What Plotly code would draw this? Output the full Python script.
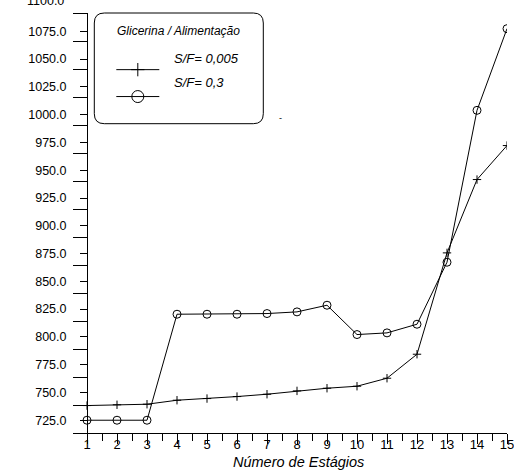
import plotly.graph_objects as go

# ---- data ----
stages = list(range(1, 16))
sf_0005 = [738.2, 738.9, 739.4, 743.0, 744.5, 746.3, 748.4, 751.4,
           753.8, 755.6, 762.8, 784.4, 875.6, 941.6, 972.2]
sf_03 = [725.0, 725.0, 725.0, 820.4, 820.4, 820.4, 821.0, 822.5,
         828.5, 802.1, 803.6, 811.4, 867.2, 1003.9, 1077.4]
series_names = ["S/F= 0,005", "S/F= 0,3"]
legend_title = "Glicerina / Alimentação"
x_title = "Número de Estágios"
y_tick_start, y_tick_step = 725, 25
y_extra_label = 1100

# ---- geometry / style ----
W, H = 514, 472
ML, MR, MT, MB = 72.7, 7.3, 13.3, 38.7
PW, PH = W - ML - MR, H - MT - MB
Y_MIN, Y_MAX = 713.5, 1091.5
X_MIN, X_MAX = 1 - 14 / 30, 15
FONT = "Liberation Sans, Arial, sans-serif"

def px_to_paper_x(px):
    return (px - ML) / PW

def px_to_paper_y(py):
    return (H - MB - py) / PH

fig = go.Figure()
fig.add_trace(go.Scatter(
    x=stages, y=sf_0005, mode="lines+markers", showlegend=False,
    name=series_names[0],
    line=dict(color="black", width=1),
    marker=dict(symbol="cross-thin", size=6, color="black",
                line=dict(color="black", width=1))))
fig.add_trace(go.Scatter(
    x=stages, y=sf_03, mode="lines+markers", showlegend=False,
    name=series_names[1],
    line=dict(color="black", width=1),
    marker=dict(symbol="circle-open", size=8, color="black",
                line=dict(color="black", width=1))))
# legend symbols only (no data); their labels are annotations
fig.add_trace(go.Scatter(
    x=[None], y=[None], mode="lines+markers", name=" ",
    legendgroup="a",
    line=dict(color="black", width=1),
    marker=dict(symbol="cross-thin", size=9.5, color="black",
                line=dict(color="black", width=1))))
fig.add_trace(go.Scatter(
    x=[None], y=[None], mode="lines+markers", name=" ",
    legendgroup="b",
    line=dict(color="black", width=1),
    marker=dict(symbol="circle-open", size=12, color="black",
                line=dict(color="black", width=1))))

# rounded legend frame
bx0, bx1 = px_to_paper_x(94), px_to_paper_x(263)
by0, by1 = px_to_paper_y(124), px_to_paper_y(13.3)
rx, ry = 10 / PW, 10 / PH
path = (f"M {bx0+rx},{by1} L {bx1-rx},{by1} Q {bx1},{by1} {bx1},{by1-ry} "
        f"L {bx1},{by0+ry} Q {bx1},{by0} {bx1-rx},{by0} "
        f"L {bx0+rx},{by0} Q {bx0},{by0} {bx0},{by0+ry} "
        f"L {bx0},{by1-ry} Q {bx0},{by1} {bx0+rx},{by1} Z")

legend_font = dict(family=FONT, size=13, style="italic")

fig.update_layout(
    width=W, height=H,
    margin=dict(l=ML, r=MR, t=MT, b=MB, pad=0),
    paper_bgcolor="white", plot_bgcolor="white",
    font=dict(family=FONT, color="black", size=12),
    shapes=[dict(type="path", xref="paper", yref="paper", path=path,
                 line=dict(color="black", width=1), layer="above")],
    legend=dict(x=px_to_paper_x(111), y=px_to_paper_y(55),
                xanchor="left", yanchor="top",
                bgcolor="rgba(0,0,0,0)", borderwidth=0,
                itemwidth=43, tracegroupgap=7,
                font=legend_font),
    xaxis=dict(range=[X_MIN, X_MAX], tickmode="linear", tick0=1, dtick=1,
               ticks="outside", ticklen=10, tickcolor="black", tickwidth=1,
               showline=True, linecolor="black", linewidth=1,
               showgrid=False, zeroline=False, automargin=False,
               ticklabeloverflow="allow", ticklabelstandoff=-11,
               tickfont=dict(family=FONT, size=13),
               minor=dict(tickmode="linear", tick0=0.5, dtick=1,
                          ticks="outside", ticklen=7, tickcolor="black",
                          tickwidth=1, showgrid=False)),
    yaxis=dict(range=[Y_MIN, Y_MAX], anchor="free", position=14 / PW,
               tickmode="linear", tick0=y_tick_start, dtick=y_tick_step,
               tickformat=".1f",
               ticks="outside", ticklen=7, tickcolor="black", tickwidth=1,
               showline=True, linecolor="black", linewidth=1,
               showgrid=False, zeroline=False, automargin=False,
               ticklabelstandoff=11,
               tickfont=dict(family=FONT, size=12.5),
               minor=dict(tickmode="linear", tick0=Y_MIN, dtick=25.2,
                          ticks="outside", ticklen=14, tickcolor="black",
                          tickwidth=1, showgrid=False)),
    annotations=[
        dict(text=legend_title, xref="paper", yref="paper",
             x=px_to_paper_x(178.5), y=px_to_paper_y(31),
             xanchor="center", yanchor="middle", showarrow=False,
             font=dict(family=FONT, size=12, style="italic")),
        dict(text=series_names[0], xref="paper", yref="paper",
             x=px_to_paper_x(172), y=px_to_paper_y(59),
             xanchor="left", yanchor="middle", showarrow=False,
             font=legend_font),
        dict(text=series_names[1], xref="paper", yref="paper",
             x=px_to_paper_x(172), y=px_to_paper_y(82.5),
             xanchor="left", yanchor="middle", showarrow=False,
             font=legend_font),
        dict(text=x_title, xref="paper", yref="paper",
             x=px_to_paper_x(298), y=px_to_paper_y(462),
             xanchor="center", yanchor="middle", showarrow=False,
             font=dict(family=FONT, size=14.5, style="italic")),
        dict(text=f"{y_extra_label:.1f}", xref="paper", yref="paper",
             x=px_to_paper_x(65.7), y=px_to_paper_y(1.5),
             xanchor="right", yanchor="middle", showarrow=False,
             font=dict(family=FONT, size=12.5)),
        dict(text="-", xref="paper", yref="paper",
             x=px_to_paper_x(280.5), y=px_to_paper_y(118),
             xanchor="center", yanchor="middle", showarrow=False,
             font=dict(family=FONT, size=9)),
    ],
)

fig.write_html("out.html")
